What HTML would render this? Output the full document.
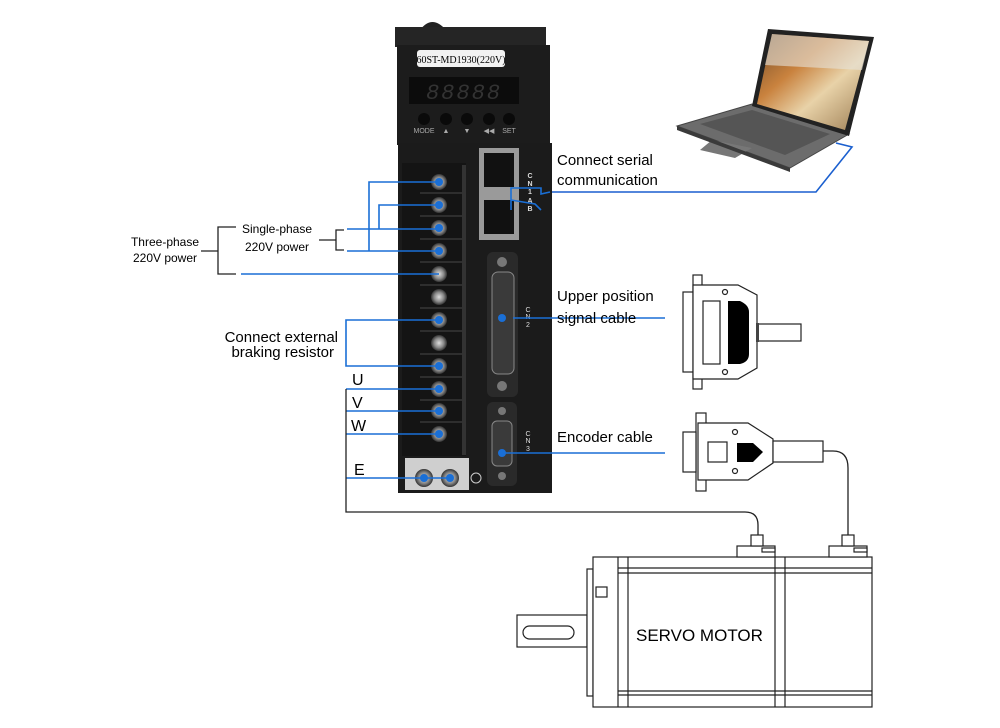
<!DOCTYPE html>
<html><head><meta charset="utf-8"><style>
html,body{margin:0;padding:0;background:#fff;}
svg{display:block;}
text{font-family:"Liberation Sans",Arial,sans-serif;fill:#000;}
</style></head><body>
<svg width="1000" height="728" viewBox="0 0 1000 728" xmlns="http://www.w3.org/2000/svg">
<defs>
<linearGradient id="scr" x1="0" y1="0" x2="1" y2="1">
<stop offset="0" stop-color="#6d4a2a"/><stop offset="0.35" stop-color="#c9823e"/><stop offset="0.6" stop-color="#e8d2a8"/><stop offset="1" stop-color="#9a7a50"/>
</linearGradient>
<radialGradient id="scw" cx="0.5" cy="0.5" r="0.5"><stop offset="0" stop-color="#ddd"/><stop offset="0.6" stop-color="#888"/><stop offset="1" stop-color="#333"/></radialGradient>
</defs>

<!-- Laptop -->
<polygon points="677,126 752,104 849,134 790,168" fill="#6c6c6c" stroke="#444" stroke-width="1"/>
<polygon points="700,124 752,110 830,134 785,155" fill="#555"/>
<polygon points="712,140 752,148 735,158 700,150" fill="#777"/>
<polygon points="677,126 790,168 790,172 677,130" fill="#3a3a3a"/>
<polygon points="768,29 874,37 849,136 752,106" fill="#222"/>
<polygon points="772,34 869,41 845,130 757,104" fill="url(#scr)"/>
<polygon points="772,34 869,41 862,70 765,65" fill="#e6e2da" opacity="0.6"/>
<polyline points="550,192 816,192 852,147 836,143" fill="none" stroke="#1a5fcf" stroke-width="1.6"/>

<!-- Drive -->
<path d="M420,30 Q432,14 446,30 Z" fill="#222"/>
<rect x="395" y="27" width="151" height="20" fill="#252525"/>
<rect x="397" y="45" width="153" height="100" fill="#1c1c1c"/>
<rect x="398" y="143" width="154" height="350" fill="#1b1b1b"/>
<rect x="417" y="50" width="88" height="17" rx="3" fill="#f2f2f2"/>
<text x="461" y="63" font-size="10" text-anchor="middle" style="font-family:'Liberation Serif',serif">60ST-MD1930(220V)</text>
<rect x="409" y="77" width="110" height="27" fill="#0c0c0c"/>
<text x="464" y="99" font-size="22" text-anchor="middle" style="fill:#333;font-family:'Liberation Mono',monospace;font-style:italic" letter-spacing="2">88888</text>
<g fill="#0a0a0a"><circle cx="424" cy="119" r="6"/><circle cx="446" cy="119" r="6"/><circle cx="467" cy="119" r="6"/><circle cx="489" cy="119" r="6"/><circle cx="509" cy="119" r="6"/></g>
<g font-size="7" text-anchor="middle"><text x="424" y="133" style="fill:#aaa">MODE</text><text x="446" y="133" style="fill:#aaa">▲</text><text x="467" y="133" style="fill:#aaa">▼</text><text x="489" y="133" style="fill:#aaa">◀◀</text><text x="509" y="133" style="fill:#aaa">SET</text></g>

<!-- terminal block -->
<rect x="402" y="163" width="64" height="293" fill="#141414"/>
<rect x="462" y="165" width="4" height="290" fill="#333"/>
<g stroke="#2e2e2e" stroke-width="2">
<line x1="420" y1="193" x2="462" y2="193"/><line x1="420" y1="216" x2="462" y2="216"/><line x1="420" y1="239" x2="462" y2="239"/><line x1="420" y1="262" x2="462" y2="262"/><line x1="420" y1="285" x2="462" y2="285"/><line x1="420" y1="308" x2="462" y2="308"/><line x1="420" y1="331" x2="462" y2="331"/><line x1="420" y1="354" x2="462" y2="354"/><line x1="420" y1="377" x2="462" y2="377"/><line x1="420" y1="400" x2="462" y2="400"/><line x1="420" y1="422" x2="462" y2="422"/></g>
<g fill="url(#scw)">
<circle cx="439" cy="182" r="8"/><circle cx="439" cy="205" r="8"/><circle cx="439" cy="228" r="8"/><circle cx="439" cy="251" r="8"/><circle cx="439" cy="274" r="8"/><circle cx="439" cy="297" r="8"/><circle cx="439" cy="320" r="8"/><circle cx="439" cy="343" r="8"/><circle cx="439" cy="366" r="8"/><circle cx="439" cy="389" r="8"/><circle cx="439" cy="411" r="8"/><circle cx="439" cy="434" r="8"/></g>
<rect x="405" y="458" width="64" height="32" fill="#cfcfcf"/>
<circle cx="424" cy="478" r="9" fill="url(#scw)"/><circle cx="450" cy="478" r="9" fill="url(#scw)"/>
<circle cx="476" cy="478" r="5" fill="none" stroke="#ccc" stroke-width="1"/>

<!-- RJ45 -->
<rect x="479" y="148" width="40" height="92" fill="#9a9a9a"/>
<rect x="484" y="153" width="30" height="34" fill="#111"/>
<rect x="484" y="200" width="30" height="34" fill="#111"/>
<g font-size="7" text-anchor="middle" font-weight="bold"><text x="530" y="178" style="fill:#ddd">C</text><text x="530" y="186" style="fill:#ddd">N</text><text x="530" y="194" style="fill:#ddd">1</text><text x="530" y="203" style="fill:#ddd">A</text><text x="530" y="211" style="fill:#ddd">B</text></g>
<!-- CN2 -->
<rect x="487" y="252" width="31" height="145" rx="6" fill="#2a2a2a"/>
<circle cx="502" cy="262" r="5" fill="#777"/><circle cx="502" cy="386" r="5" fill="#777"/>
<rect x="492" y="272" width="22" height="102" rx="6" fill="#3a3a3a" stroke="#888" stroke-width="1"/>
<g font-size="7" text-anchor="middle"><text x="528" y="312" style="fill:#ddd">C</text><text x="528" y="319" style="fill:#ddd">N</text><text x="528" y="327" style="fill:#ddd">2</text></g>
<!-- CN3 -->
<rect x="487" y="402" width="30" height="84" rx="6" fill="#2a2a2a"/>
<circle cx="502" cy="411" r="4" fill="#777"/><circle cx="502" cy="476" r="4" fill="#777"/>
<rect x="492" y="421" width="20" height="45" rx="5" fill="#3a3a3a" stroke="#888" stroke-width="1"/>
<g font-size="7" text-anchor="middle"><text x="528" y="436" style="fill:#ddd">C</text><text x="528" y="443" style="fill:#ddd">N</text><text x="528" y="451" style="fill:#ddd">3</text></g>

<!-- Blue wiring -->
<g stroke="#1a6fd6" stroke-width="1.6" fill="none">
<polyline points="439,182 369,182 369,251"/>
<polyline points="439,205 379,205 379,229"/>
<line x1="347" y1="229" x2="439" y2="229"/>
<line x1="347" y1="251" x2="439" y2="251"/>
<line x1="241" y1="274" x2="439" y2="274"/>
<polyline points="439,320 346,320 346,366 439,366"/>
<line x1="346" y1="389" x2="439" y2="389"/>
<line x1="346" y1="411" x2="439" y2="411"/>
<line x1="346" y1="434" x2="439" y2="434"/>
<line x1="346" y1="478" x2="450" y2="478"/>
<polyline points="511,210 511,188 541,188 541,194 550,192"/>
<polyline points="511,200 535,204 541,210"/>
<line x1="513" y1="318" x2="665" y2="318"/>
<line x1="502" y1="453" x2="665" y2="453"/>
</g>
<g fill="#1a6fd6">
<circle cx="439" cy="182" r="4"/><circle cx="439" cy="205" r="4"/><circle cx="439" cy="228" r="4"/><circle cx="439" cy="251" r="4"/><circle cx="439" cy="320" r="4"/><circle cx="439" cy="366" r="4"/><circle cx="439" cy="389" r="4"/><circle cx="439" cy="411" r="4"/><circle cx="439" cy="434" r="4"/><circle cx="424" cy="478" r="4"/><circle cx="450" cy="478" r="4"/><circle cx="502" cy="318" r="4"/><circle cx="502" cy="453" r="4"/>
</g>

<!-- black brackets -->
<g stroke="#222" stroke-width="1.3" fill="none">
<polyline points="344,230 336,230 336,250 344,250"/>
<line x1="319" y1="240" x2="336" y2="240"/>
<polyline points="236,227 218,227 218,274 236,274"/>
<line x1="201" y1="251" x2="218" y2="251"/>
<path d="M346,389 L346,512 L745,512 Q758,512 758,525 L758,535"/>
<path d="M823,451 L833,451 Q848,451 848,468 L848,535"/>
</g>

<!-- Labels -->
<text x="165" y="246" font-size="12" text-anchor="middle">Three-phase</text>
<text x="165" y="262" font-size="12" text-anchor="middle">220V power</text>
<text x="277" y="233" font-size="12" text-anchor="middle">Single-phase</text>
<text x="277" y="251" font-size="12" text-anchor="middle">220V power</text>
<text x="338" y="342" font-size="15" text-anchor="end">Connect external</text>
<text x="334" y="357" font-size="15" text-anchor="end">braking resistor</text>
<text x="352" y="385" font-size="16">U</text>
<text x="352" y="408" font-size="16">V</text>
<text x="351" y="431" font-size="16">W</text>
<text x="354" y="475" font-size="16">E</text>
<text x="557" y="165" font-size="15">Connect serial</text>
<text x="557" y="185" font-size="15">communication</text>
<text x="557" y="301" font-size="15">Upper position</text>
<text x="557" y="323" font-size="15">signal cable</text>
<text x="557" y="442" font-size="15">Encoder cable</text>

<!-- DB25 connector drawing -->
<g stroke="#222" stroke-width="1.2" fill="#fff">
<rect x="693" y="275" width="9" height="114"/>
<rect x="683" y="292" width="10" height="80"/>
<polygon points="693,285 738,285 757,295 757,368 738,379 693,379"/>
<rect x="703" y="301" width="17" height="63"/>
<rect x="757" y="324" width="44" height="17"/>
<circle cx="725" cy="292" r="2.5"/><circle cx="725" cy="372" r="2.5"/>
</g>
<path d="M728,301 L740,301 Q749,305 749,312 L749,354 Q749,362 740,364 L728,364 Z" fill="#000"/>
<rect x="756" y="323" width="3" height="19" fill="#444"/>

<!-- DB9 connector drawing -->
<g stroke="#222" stroke-width="1.2" fill="#fff">
<rect x="696" y="413" width="10" height="78"/>
<rect x="683" y="432" width="13" height="40"/>
<polygon points="698,423 748,423 773,439 773,463 748,480 698,480"/>
<rect x="708" y="442" width="19" height="20"/>
<rect x="773" y="441" width="50" height="21"/>
<circle cx="735" cy="432" r="2.5"/><circle cx="735" cy="471" r="2.5"/>
</g>
<polygon points="737,443 753,443 763,452 753,462 737,462" fill="#000"/>

<!-- Motor -->
<g stroke="#222" stroke-width="1.2" fill="#fff">
<rect x="517" y="615" width="70" height="32"/>
<rect x="523" y="626" width="51" height="13" rx="6.5"/>
<rect x="587" y="569" width="6" height="127"/>
<rect x="593" y="557" width="279" height="150"/>
<rect x="596" y="587" width="11" height="10"/>
<line x1="618" y1="557" x2="618" y2="707"/><line x1="628" y1="557" x2="628" y2="707"/>
<line x1="775" y1="557" x2="775" y2="707"/><line x1="785" y1="557" x2="785" y2="707"/>
<line x1="618" y1="568" x2="872" y2="568"/><line x1="618" y1="573" x2="872" y2="573"/>
<line x1="618" y1="691" x2="872" y2="691"/><line x1="618" y1="695" x2="872" y2="695"/>
<rect x="737" y="546" width="38" height="11"/><rect x="751" y="535" width="12" height="11"/><rect x="762" y="548" width="13" height="4"/>
<rect x="829" y="546" width="38" height="11"/><rect x="842" y="535" width="12" height="11"/><rect x="854" y="548" width="13" height="4"/>
</g>
<text x="636" y="641" font-size="17">SERVO  MOTOR</text>
</svg>
</body></html>
